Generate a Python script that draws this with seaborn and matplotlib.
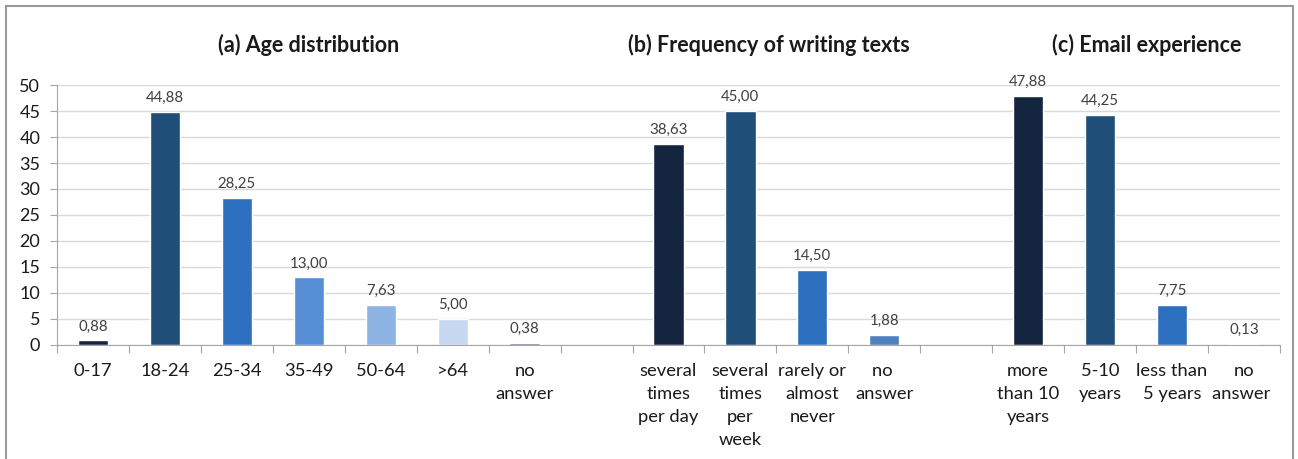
import numpy as np
import pandas as pd
import matplotlib.pyplot as plt
import matplotlib.patches as mpatches
import seaborn as sns

# slots in order, blanks separate the three groups
categories = ['0-17', '18-24', '25-34', '35-49', '50-64', '>64', 'no\nanswer', ' ',
              'several\ntimes\nper day', 'several\ntimes\nper\nweek', 'rarely or\nalmost\nnever', 'no \nanswer', '  ',
              'more\nthan 10\nyears', '5-10\nyears', 'less than\n5 years', 'no\nanswer ']
values = [0.88, 44.88, 28.25, 13.00, 7.63, 5.00, 0.38, np.nan,
          38.63, 45.00, 14.50, 1.88, np.nan,
          47.88, 44.25, 7.75, 0.13]
colors = ['#14253F', '#1F4E79', '#2E70C0', '#558ED5', '#8DB4E2', '#C6D9F1', '#5A6F8C', '#FFFFFF',
          '#14253F', '#1F4E79', '#2E70C0', '#4F81BD', '#FFFFFF',
          '#14253F', '#1F4E79', '#2E70C0', '#4F81BD']
titles = ['(a) Age distribution', '(b) Frequency of writing texts', '(c) Email experience']
title_pos = [3.0, 9.4, 14.65]

df = pd.DataFrame({'cat': categories, 'val': values})
palette = dict(zip(categories, colors))

sns.set_style('white')
plt.rcParams['font.family'] = ['Lato', 'DejaVu Sans']

fig = plt.figure(figsize=(12.98, 4.59), dpi=100)
ax = fig.add_axes([0.0439, 0.2484, 0.9422, 0.5664])

sns.barplot(data=df, x='cat', y='val', hue='cat', order=categories, palette=palette,
            legend=False, width=0.42, ax=ax, saturation=1)

for cont in ax.containers:
    for bar in cont:
        h = bar.get_height()
        if np.isnan(h):
            continue
        ax.annotate(f'{h:.2f}'.replace('.', ','), (bar.get_x() + bar.get_width() / 2, h),
                    xytext=(0, 5), textcoords='offset points', ha='center', va='bottom',
                    fontsize=10.8, color='#404040')

ax.set_ylim(0, 50)
ax.set_xlim(-0.5, len(categories) - 0.5)
ax.set_yticks(range(0, 51, 5))
ax.yaxis.grid(True, color='#D9D9D9', linewidth=1)
ax.set_axisbelow(True)
ax.tick_params(axis='y', labelsize=13, length=5, left=True, color='#A6A6A6', labelcolor='#1A1A1A', pad=7)

# tick marks on slot boundaries, labels at slot centres
ax.set_xticks(np.arange(-0.5, len(categories), 1))
ax.set_xticklabels([])
ax.tick_params(axis='x', which='major', length=6, bottom=True, color='#A6A6A6')
ax.set_xticks(np.arange(len(categories)), minor=True)
ax.set_xticklabels(categories, minor=True, fontsize=13.2, color='#1A1A1A', linespacing=1.55)
ax.tick_params(axis='x', which='minor', length=0, pad=13)

ax.set_xlabel('')
ax.set_ylabel('')
for s in ['top', 'right']:
    ax.spines[s].set_visible(False)
for s in ['left', 'bottom']:
    ax.spines[s].set_color('#A6A6A6')

for t, xp in zip(titles, title_pos):
    ax.text(xp, 57.7, t, ha='center', va='center', fontsize=15.5, fontweight='bold',
            color='#1A1A1A', clip_on=False)

fig.patches.append(mpatches.Rectangle((0.005, -0.1), 0.991, 1.087, transform=fig.transFigure,
                                      fill=False, edgecolor='#9A9A9A', linewidth=1.5))

fig.savefig('out.png', dpi=100)
